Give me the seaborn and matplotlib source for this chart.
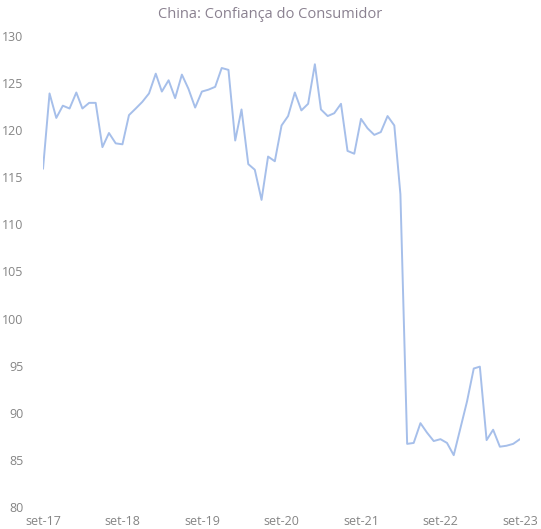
import matplotlib

matplotlib.use("Agg")
import matplotlib.pyplot as plt
import pandas as pd
import seaborn as sns

# Monthly index, Sep 2017 .. Sep 2023
START_MONTH = "2017-09-01"
CONFIDENCE = [
    115.9, 123.9, 121.3, 122.6,                                             # 2017 Sep-Dec
    122.3, 124.0, 122.3, 122.9, 122.9, 118.2, 119.7, 118.6, 118.5, 121.6, 122.3, 123.0,  # 2018
    123.9, 126.0, 124.1, 125.3, 123.4, 125.9, 124.4, 122.4, 124.1, 124.3, 124.6, 126.6,  # 2019
    126.4, 118.9, 122.2, 116.4, 115.8, 112.6, 117.2, 116.7, 120.5, 121.5, 124.0, 122.1,  # 2020
    122.8, 127.0, 122.2, 121.5, 121.8, 122.8, 117.8, 117.5, 121.2, 120.2, 119.5, 119.8,  # 2021
    121.5, 120.5, 113.2, 86.7, 86.8, 88.9, 87.9, 87.0, 87.2, 86.8, 85.5, 88.3,           # 2022
    91.2, 94.7, 94.9, 87.1, 88.2, 86.4, 86.5, 86.7, 87.2,                                # 2023 Jan-Sep
]
TICK_DATES = ["2017-09-01", "2018-09-01", "2019-09-01", "2020-09-01",
              "2021-09-01", "2022-09-01", "2023-09-01"]
TICK_LABELS = ["set-17", "set-18", "set-19", "set-20", "set-21", "set-22", "set-23"]
Y_TICKS = [80, 85, 90, 95, 100, 105, 110, 115, 120, 125, 130]
TITLE = "China: Confiança do Consumidor"

LINE_COLOR = "#a6bfea"
TEXT_COLOR = "#858585"


def main() -> None:
    df = pd.DataFrame({
        "date": pd.date_range(START_MONTH, periods=len(CONFIDENCE), freq="MS"),
        "value": CONFIDENCE,
    })

    sns.set_theme(style="white")
    plt.rcParams["font.family"] = ["Open Sans", "DejaVu Sans"]

    fig = plt.figure(figsize=(5.41, 5.29), dpi=100)
    ax = fig.add_axes([0.0795, 0.0416, 0.8815, 0.8904])
    sns.lineplot(data=df, x="date", y="value", ax=ax, color=LINE_COLOR, linewidth=1.4)

    ax.set_xlim(df["date"].iloc[0], df["date"].iloc[-1])
    ax.set_ylim(Y_TICKS[0], Y_TICKS[-1])
    ax.set_yticks(Y_TICKS)
    ax.set_xticks(pd.to_datetime(TICK_DATES))
    ax.set_xticklabels(TICK_LABELS)
    ax.tick_params(axis="both", length=0, labelsize=9, labelcolor=TEXT_COLOR)
    ax.tick_params(axis="y", pad=14)
    ax.tick_params(axis="x", pad=6)
    ax.set_xlabel("")
    ax.set_ylabel("")
    sns.despine(ax=ax, left=True, bottom=True)

    fig.text(0.5, 0.972, TITLE, ha="center", va="center", fontsize=10.5, color="#8a8190")

    fig.savefig("out.png", dpi=100)
    plt.close(fig)


if __name__ == "__main__":
    main()
